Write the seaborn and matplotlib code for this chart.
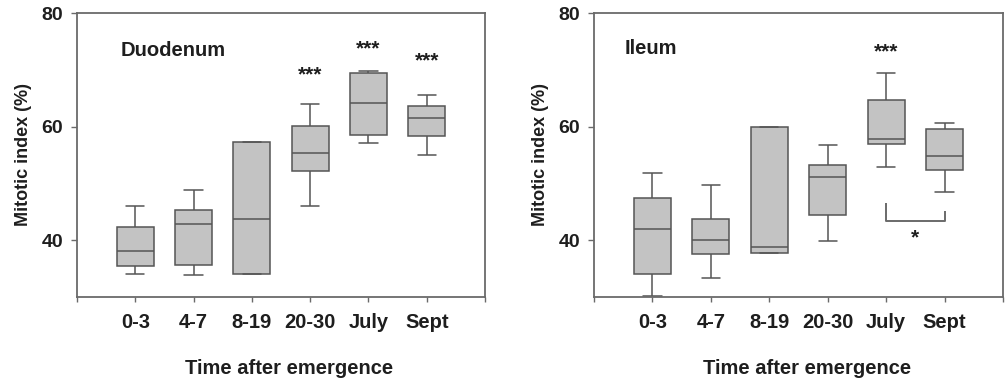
import matplotlib
matplotlib.use("Agg")
import matplotlib.pyplot as plt
import pandas as pd
import seaborn as sns

groups = ["0-3", "4-7", "8-19", "20-30", "July", "Sept"]

# Five-number summaries per group: lower whisker, Q1, median, Q3, upper whisker
duo_low = [34.0, 33.8, 34.0, 46.0, 57.2, 55.0]
duo_q1 = [35.5, 35.7, 34.0, 52.1, 58.5, 58.3]
duo_med = [38.1, 42.8, 43.8, 55.3, 64.1, 61.5]
duo_q3 = [42.3, 45.4, 57.3, 60.1, 69.4, 63.6]
duo_high = [46.0, 48.8, 57.3, 63.9, 69.8, 65.6]

ile_low = [30.1, 33.3, 37.8, 39.8, 52.9, 48.5]
ile_q1 = [34.1, 37.5, 37.8, 44.4, 56.9, 52.4]
ile_med = [42.0, 40.0, 38.8, 51.1, 57.9, 54.9]
ile_q3 = [47.4, 43.8, 60.0, 53.3, 64.6, 59.5]
ile_high = [51.8, 49.8, 60.0, 56.7, 69.4, 60.6]

# Significance marks: (group, label, y position)
duo_sig = [("20-30", "***", 70.1), ("July", "***", 74.8), ("Sept", "***", 72.6)]
ile_sig = [("July", "***", 74.2)]

# July vs Sept comparison bracket in the ileum panel
ile_bracket_groups = ["July", "Sept"]
ile_bracket_y = [46.6, 43.4, 45.2]
ile_bracket_label = "*"
ile_bracket_label_y = 41.5

sns.set_style("ticks")
plt.rcParams["font.family"] = ["Liberation Sans", "DejaVu Sans"]
plt.rcParams["font.weight"] = "bold"

BOX_FILL = "#c3c3c3"
LINE = "#555555"
SPINE = "#6a6a6a"
TEXT = "#1e1e1e"


def long_table(low, q1, med, q3, high):
    rows = []
    for g, a, b, c, d, e in zip(groups, low, q1, med, q3, high):
        for v in (a, b, c, d, e):
            rows.append({"group": g, "value": v})
    return pd.DataFrame(rows)


def draw_panel(ax, df, title, title_xy, sig):
    sns.boxplot(data=df, x="group", y="value", order=groups, ax=ax,
                whis=(0, 100), width=0.63, color=BOX_FILL, linecolor=LINE,
                linewidth=1.1, saturation=1, showfliers=False)
    ax.set_xlim(-1, 6)
    ax.set_ylim(30, 80)
    ax.set_xticks(range(-1, 7))
    ax.set_xticklabels([""] + groups + [""], fontsize=14.5, fontweight="bold",
                       color=TEXT)
    ax.set_yticks([40, 60, 80])
    ax.set_yticklabels(["40", "60", "80"], fontsize=14, fontweight="bold",
                       color=TEXT)
    ax.tick_params(axis="x", length=3.5, width=1.0, color=SPINE, pad=8)
    ax.tick_params(axis="y", length=4, width=1.0, color=SPINE, pad=6)
    for s in ax.spines.values():
        s.set_visible(True)
        s.set_color(SPINE)
        s.set_linewidth(1.3)
    ax.set_xlabel("Time after emergence", fontsize=14.5, fontweight="bold",
                  color=TEXT)
    ax.xaxis.set_label_coords(0.52, -0.22)
    ax.set_ylabel("Mitotic index (%)", fontsize=13, fontweight="bold",
                  color=TEXT, labelpad=7)
    ax.text(title_xy[0], title_xy[1], title, fontsize=14.5, fontweight="bold",
            color=TEXT, ha="left", va="center")
    for g, lab, y in sig:
        ax.text(groups.index(g), y - 2.0, lab, fontsize=15, fontweight="bold",
                color=TEXT, ha="center", va="baseline")


fig = plt.figure(figsize=(10.05, 3.82), dpi=100)
ax1 = fig.add_axes([77 / 1005, 85 / 382, 408 / 1005, 284 / 382])
ax2 = fig.add_axes([594 / 1005, 85 / 382, 409 / 1005, 284 / 382])

draw_panel(ax1, long_table(duo_low, duo_q1, duo_med, duo_q3, duo_high),
           "Duodenum", (-0.26, 73.4), duo_sig)
draw_panel(ax2, long_table(ile_low, ile_q1, ile_med, ile_q3, ile_high),
           "Ileum", (-0.48, 73.8), ile_sig)

xa = groups.index(ile_bracket_groups[0])
xb = groups.index(ile_bracket_groups[1])
ax2.plot([xa, xa, xb, xb], ile_bracket_y[:2] + [ile_bracket_y[1], ile_bracket_y[2]],
         color=SPINE, linewidth=1.4, solid_capstyle="butt")
ax2.text((xa + xb) / 2, ile_bracket_label_y - 2.0, ile_bracket_label,
         fontsize=15, fontweight="bold", color=TEXT, ha="center", va="baseline")

fig.savefig("out.png", dpi=100)
